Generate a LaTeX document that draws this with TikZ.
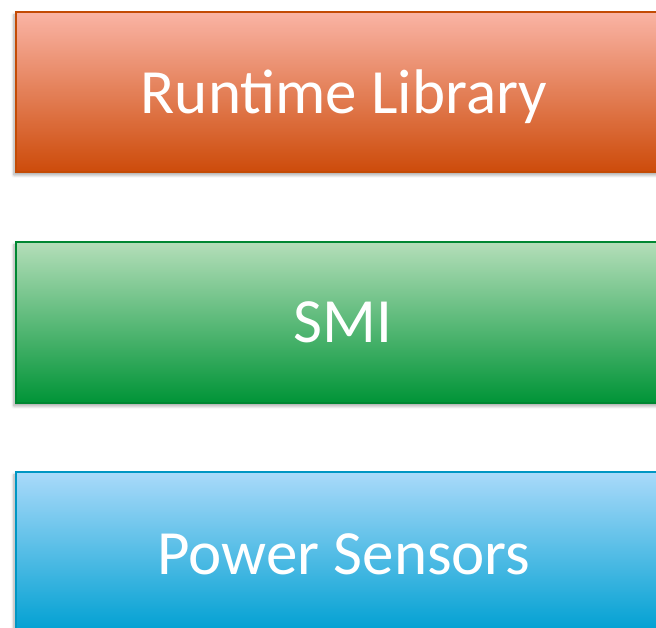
\documentclass[tikz,border=0pt]{standalone}
\usepackage{fontspec}
\setmainfont{Carlito}
\usetikzlibrary{shadows.blur}
\definecolor{rtop}{RGB}{250,180,165}
\definecolor{rbot}{RGB}{205,75,10}
\definecolor{rline}{RGB}{195,75,5}
\definecolor{gtop}{RGB}{180,222,185}
\definecolor{gbot}{RGB}{0,148,55}
\definecolor{gline}{RGB}{0,135,50}
\definecolor{btop}{RGB}{170,218,250}
\definecolor{bbot}{RGB}{0,160,210}
\definecolor{bline}{RGB}{0,150,195}
\tikzset{
  layer/.style={draw, line width=1.5pt, minimum width=656pt, inner sep=0pt,
    blur shadow={shadow xshift=-2pt, shadow yshift=-3pt, shadow blur steps=6, shadow blur radius=3pt, shadow opacity=35}},
  lbl/.style={anchor=base, inner sep=0pt, text=white, font=\fontsize{63}{66}\selectfont}
}
\begin{document}
\begin{tikzpicture}[x=1pt,y=1pt]
\useasboundingbox (0,0) rectangle (656,628);
\node[layer, minimum height=160pt, draw=rline, top color=rtop, bottom color=rbot] (rt) at (344,536) {};
\node[layer, minimum height=161pt, draw=gline, top color=gtop, bottom color=gbot] (smi) at (344,305.5) {};
\node[layer, minimum height=160pt, draw=bline, top color=btop, bottom color=bbot] (ps) at (344,76) {};
\node[lbl] (rtl) at (344,514) {Runtime Library};
\node[lbl] (smil) at (343,285) {SMI};
\node[lbl] (psl) at (344,53) {Power Sensors};
\end{tikzpicture}
\end{document}
